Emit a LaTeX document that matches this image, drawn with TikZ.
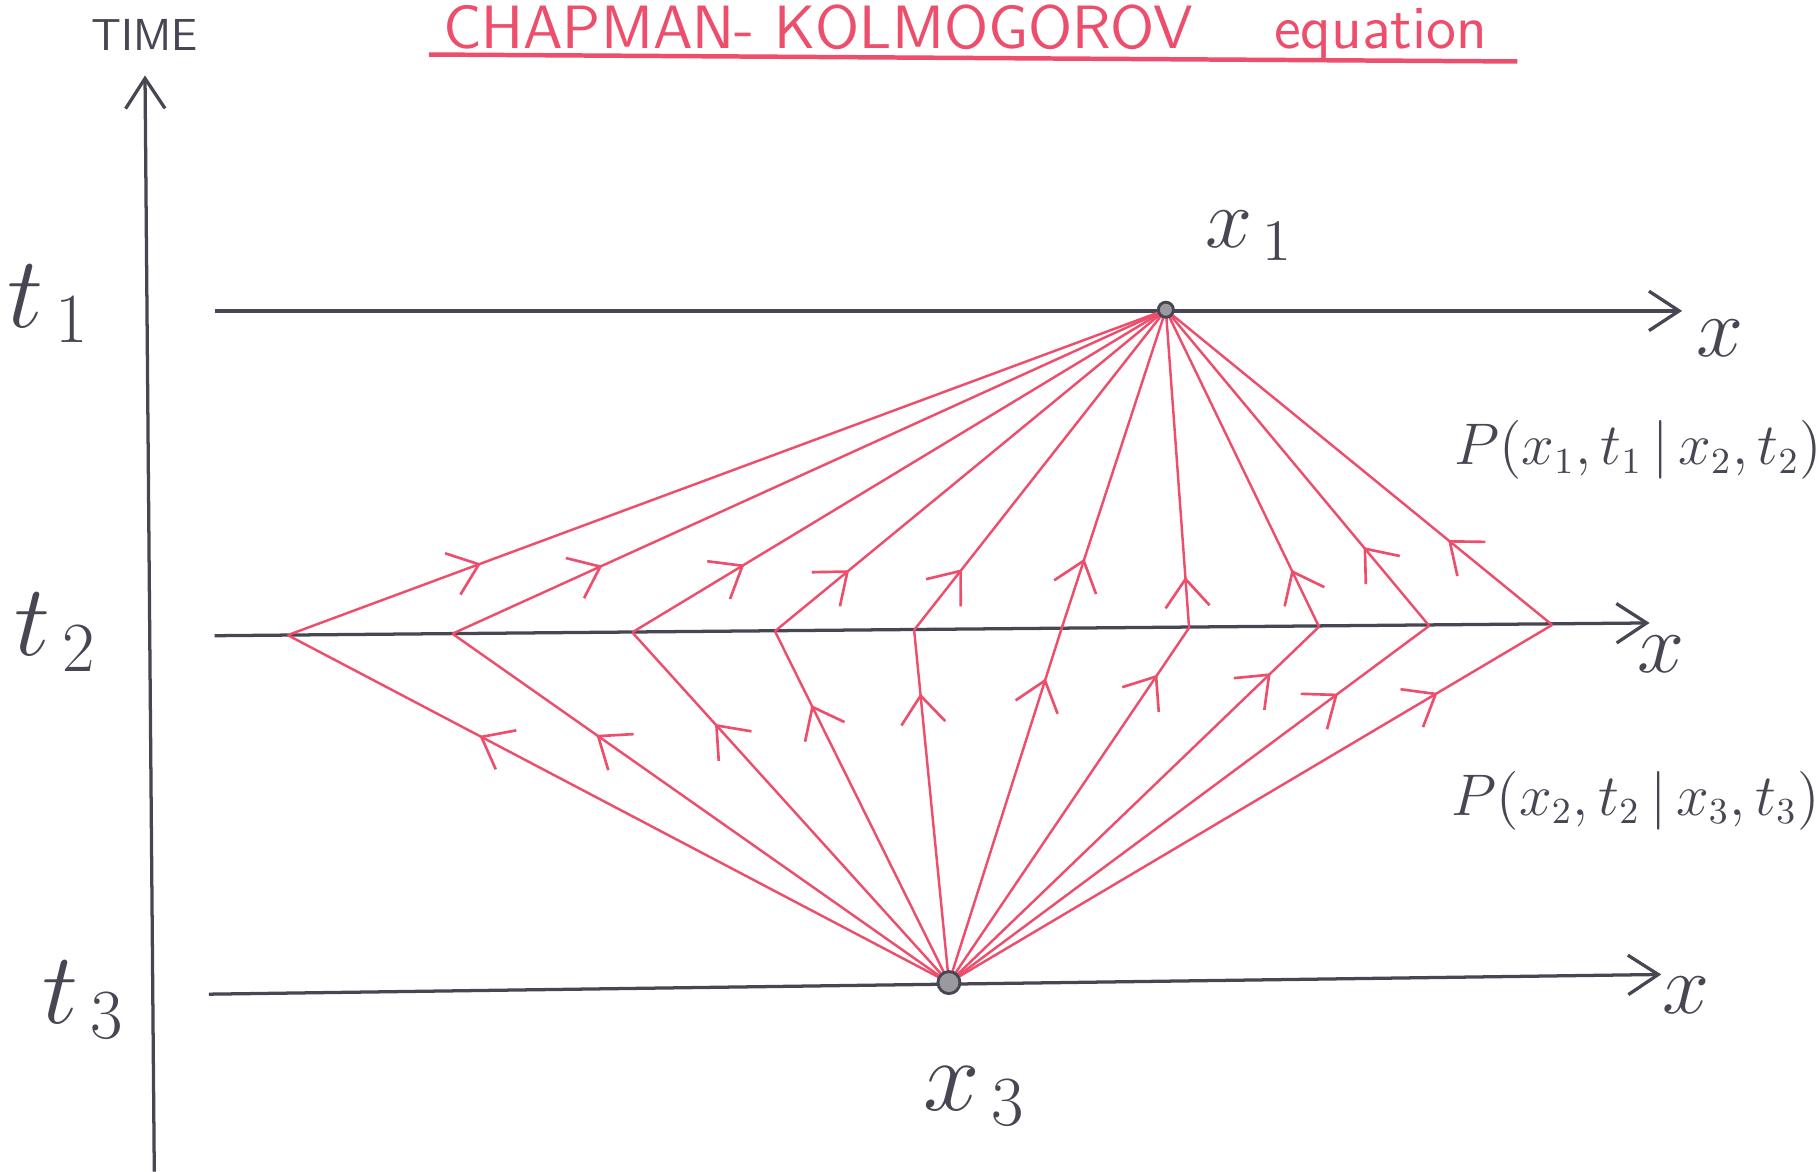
\documentclass[tikz,border=0pt]{standalone}
\usetikzlibrary{arrows.meta,decorations.markings}
\definecolor{pen}{RGB}{72,70,82}
\definecolor{redpen}{RGB}{236,78,108}
\begin{document}
\begin{tikzpicture}[x=0.1mm,y=-0.1mm,
  axisline/.style={draw=pen, line width=0.8pt},
  axistip/.style={-{Straight Barb[length=2.6mm,width=3.4mm,line width=0.8pt]}},
  ray/.style={draw=redpen, line width=0.6pt},
  midarr/.style={postaction={decorate},decoration={markings,
     mark=at position #1 with {\arrow{Straight Barb[length=2.4mm,width=3.8mm,line width=0.65pt,color=redpen]}}}},
  lbl/.style={text=pen, inner sep=0pt},
  bigmath/.style={lbl, font=\fontsize{24}{26}\selectfont},
  midmath/.style={lbl, font=\fontsize{20}{22}\selectfont},
  plabel/.style={lbl, font=\fontsize{13.5}{15}\selectfont},
  dot/.style={circle, draw=pen, fill=pen!55, line width=0.7pt, minimum size=#1, inner sep=0pt},
]
\useasboundingbox (0,0) rectangle (1568,1010);
\fill[white] (0,0) rectangle (1568,1010);

% title
\node[anchor=base, text=redpen, inner sep=0pt, font=\sffamily\fontsize{15}{17}\selectfont] (title) at (832,42) {CHAPMAN- KOLMOGOROV\quad\ equation};
\coordinate (ulA) at (370,47);
\coordinate (ulB) at (1308,53);
\draw[redpen, line width=1.1pt] (ulA) -- (ulB);

% time axis
\coordinate (vb) at (133,1010);
\coordinate (vt) at (125,65);
\draw[axisline, axistip] (vb) -- (vt);
\node[lbl, font=\sffamily\fontsize{11}{12}\selectfont] (time) at (125,30) {TIME};

% horizontal axes
\coordinate (a1) at (185,268);  \coordinate (b1) at (1450,268);
\coordinate (a2) at (185,548);  \coordinate (b2) at (1422,537);
\coordinate (a3) at (180,857);  \coordinate (b3) at (1432,840);
\draw[axisline, axistip] (a1) -- (b1);
\draw[axisline, axistip] (a2) -- (b2);
\draw[axisline, axistip] (a3) -- (b3);

\node[midmath] (xl1) at (1483,292) {$x$};
\node[midmath] (xl2) at (1432,564) {$x$};
\node[midmath] (xl3) at (1453,858) {$x$};

% time labels
\node[bigmath] (t1) at (42,262) {$t_{\,1}$};
\node[bigmath] (t2) at (48,545) {$t_{\,2}$};
\node[bigmath] (t3) at (72,862) {$t_{\,3}$};

% points
\coordinate (X1) at (1005,267);
\coordinate (X3) at (818,847);

% rays
\foreach \i/\px/\py/\lf/\uf in {
   1/248/547.5/0.71/0.22,
   2/390/546.3/0.71/0.21,
   3/545/545.1/0.74/0.21,
   4/668/544.1/0.79/0.19,
   5/788/543.1/0.82/0.19,
   6/915/542.1/0.86/0.22,
   7/1025/541.2/0.87/0.16,
   8/1137/540.3/0.87/0.18,
   9/1232/539.5/0.81/0.25,
   10/1338/538.7/0.81/0.27} {
  \coordinate (p\i) at (\px,\py);
  \draw[ray, midarr=\lf] (X3) -- (p\i);
  \draw[ray, midarr=\uf] (p\i) -- (X1);
}

\node[dot=1.3mm] (x1dot) at (X1) {};
\node[dot=1.9mm] (x3dot) at (X3) {};

\node[midmath] (x1l) at (1077,203) {$x_{\,1}$};
\node[bigmath] (x3l) at (840,945) {$x_{\,3}$};

\node[plabel] (P1) at (1412,388) {$P(x_1,t_1\,|\,x_2,t_2)$};
\node[plabel] (P2) at (1410,690) {$P(x_2,t_2\,|\,x_3,t_3)$};
\end{tikzpicture}
\end{document}
